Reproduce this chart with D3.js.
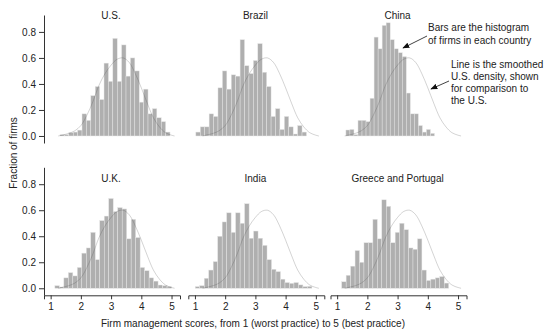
<!DOCTYPE html>
<html><head><meta charset="utf-8">
<script src="https://cdn.jsdelivr.net/npm/d3@7"></script>
<style>
body{margin:0;background:#fff;}
svg{display:block;font-family:"Liberation Sans",Arial,sans-serif;}
</style></head>
<body><div id="chart"></div>
<script>
// ---------- data ----------
const countries = ["U.S.", "Brazil", "China", "U.K.", "India", "Greece and Portugal"];
const binStart = [1.31, 1.03, 1.29, 1.14, 1.01, 1.15];
const binEnd   = [4.95, 4.69, 4.22, 5.00, 4.87, 4.69];
const usBars = [0.01,0.01,0.025,0.03,0.045,0.17,0.12,0.31,0.38,0.28,0.56,0.42,0.75,0.42,0.70,0.46,0.60,0.50,0.26,0.36,0.17,0.21,0.14,0.11,0.03];
const brazilBars = [0.03,0.07,0.07,0.17,0.15,0.37,0.50,0.36,0.47,0.46,0.74,0.54,0.48,0.58,0.71,0.49,0.38,0.15,0.21,0.05,0.15,0.07,0.015,0.08,0.03];
const chinaBars = [0.046,0.05,0.01,0.12,0.12,0.11,0.29,0.76,0.67,0.85,0.87,0.74,0.67,0.64,0.61,0.33,0.17,0.17,0.08,0.03,0.05,0.02];
const ukBars = [0.02,0.01,0.08,0.12,0.095,0.16,0.27,0.31,0.43,0.22,0.52,0.555,0.69,0.59,0.62,0.61,0.38,0.53,0.39,0.16,0.135,0.08,0.055,0.025,0.02,0.013];
const indiaBars = [0.013,0.02,0.077,0.14,0.205,0.40,0.51,0.58,0.43,0.58,0.50,0.65,0.385,0.44,0.385,0.33,0.22,0.146,0.128,0.07,0.044,0.038,0.044,0.026,0.013,0.015];
const greeceBars = [0.05,0.10,0.17,0.29,0.20,0.35,0.35,0.53,0.38,0.68,0.63,0.35,0.43,0.50,0.45,0.31,0.30,0.38,0.14,0.06,0.07,0.08,0.09,0.04];
const usDensityX = [1.25,1.4,1.6,1.8,2.0,2.2,2.4,2.6,2.8,3.0,3.2,3.4,3.6,3.8,4.0,4.2,4.4,4.6,4.8,5.0,5.1];
const usDensityY = [0.0,0.008,0.02,0.04,0.08,0.16,0.265,0.39,0.48,0.545,0.59,0.60,0.565,0.48,0.37,0.25,0.14,0.07,0.025,0.006,0.0];
const xTicks = [1,2,3,4,5];
const yTicks = [0,0.2,0.4,0.6,0.8];
const xLabel = "Firm management scores, from 1 (worst practice) to 5 (best practice)";
const yLabel = "Fraction of firms";
const note1 = ["Bars are the histogram", "of firms in each country"];
const note2 = ["Line is the smoothed", "U.S. density, shown", "for comparison to", "the U.S."];
const allBars = [usBars, brazilBars, chinaBars, ukBars, indiaBars, greeceBars];

// ---------- layout ----------
const W = 550, H = 333;
const colLeft = [44, 188.3, 330.5];
const panelW = 136;
const rowRange = [[143, 15], [295.3, 167.3]];
const titleY = [18.5, 182];
const textCol = "#222";

const svg = d3.select("#chart").append("svg").attr("width", W).attr("height", H);

const density = usDensityX.map((d, i) => [d, usDensityY[i]]);

countries.forEach((name, i) => {
  const col = i % 3, row = Math.floor(i / 3);
  const g = svg.append("g").attr("transform", `translate(${colLeft[col]},0)`);
  const x = d3.scaleLinear().domain([0.78, 5.28]).range([0, panelW]);
  const y = d3.scaleLinear().domain([-0.054, 0.93]).range(rowRange[row]);
  const vals = allBars[i];
  const bw = (binEnd[i] - binStart[i]) / vals.length;
  const bins = vals.map((v, j) => ({x0: binStart[i] + j * bw, x1: binStart[i] + (j + 1) * bw, v}));

  g.selectAll("rect.bar").data(bins).enter().append("rect")
    .attr("class", "bar")
    .attr("x", d => x(d.x0))
    .attr("width", d => x(d.x1) - x(d.x0))
    .attr("y", d => y(d.v))
    .attr("height", d => y(0) - y(d.v))
    .attr("fill", "#afafaf")
    .attr("stroke", "#e6e6e6")
    .attr("stroke-width", 0.45);

  const line = d3.line().x(d => x(d[0])).y(d => y(d[1])).curve(d3.curveCatmullRom);
  g.append("path").attr("d", line(density))
    .attr("fill", "none")
    .attr("stroke", "rgba(60,60,60,0.22)")
    .attr("stroke-width", 1);

  g.append("text").attr("x", x(3)).attr("y", titleY[row])
    .attr("text-anchor", "middle").attr("font-size", 10).attr("fill", textCol).text(name);

  if (col === 0) {
    const ax = g.append("g").call(d3.axisLeft(y).tickValues(yTicks).tickFormat(d3.format(".1f")).tickSize(5).tickSizeOuter(0).tickPadding(3));
    ax.select(".domain").attr("stroke", "#333");
    ax.selectAll(".tick line").attr("stroke", "#333");
    ax.selectAll("text").attr("font-size", 10).attr("fill", textCol).attr("font-family", "Liberation Sans, Arial, sans-serif");
  }
  if (row === 1) {
    const ax = g.append("g").attr("transform", `translate(0,${rowRange[1][0]})`)
      .call(d3.axisBottom(x).tickValues(xTicks).tickFormat(d3.format("d")).tickSize(4).tickSizeOuter(4).tickPadding(4));
    ax.select(".domain").attr("stroke", "#333");
    ax.selectAll(".tick line").attr("stroke", "#333");
    ax.selectAll("text").attr("font-size", 10).attr("fill", textCol).attr("font-family", "Liberation Sans, Arial, sans-serif");
  }
});

// axis titles
svg.append("text").attr("x", 101).attr("y", 327).attr("font-size", 10).attr("fill", textCol).text(xLabel);
svg.append("text").attr("transform", "translate(16.5,153) rotate(-90)").attr("text-anchor", "middle")
  .attr("font-size", 10).attr("fill", textCol).text(yLabel);

// annotations
const defs = svg.append("defs");
defs.append("marker").attr("id", "ah").attr("viewBox", "0 0 10 10").attr("refX", 9).attr("refY", 5)
  .attr("markerWidth", 7).attr("markerHeight", 7).attr("orient", "auto").attr("markerUnits", "userSpaceOnUse")
  .append("path").attr("d", "M0,1 L10,5 L0,9 Z").attr("fill", "#111");

note1.forEach((t, k) => svg.append("text").attr("x", 428).attr("y", 31 + k * 13).attr("font-size", 10).attr("fill", textCol).text(t));
note2.forEach((t, k) => svg.append("text").attr("x", 451).attr("y", 67.5 + k * 12).attr("font-size", 10).attr("fill", textCol).text(t));

svg.append("line").attr("x1", 427).attr("y1", 36).attr("x2", 403).attr("y2", 48)
  .attr("stroke", "#111").attr("stroke-width", 0.8).attr("marker-end", "url(#ah)");
svg.append("line").attr("x1", 449).attr("y1", 81).attr("x2", 431).attr("y2", 89)
  .attr("stroke", "#111").attr("stroke-width", 0.8).attr("marker-end", "url(#ah)");
</script></body></html>
